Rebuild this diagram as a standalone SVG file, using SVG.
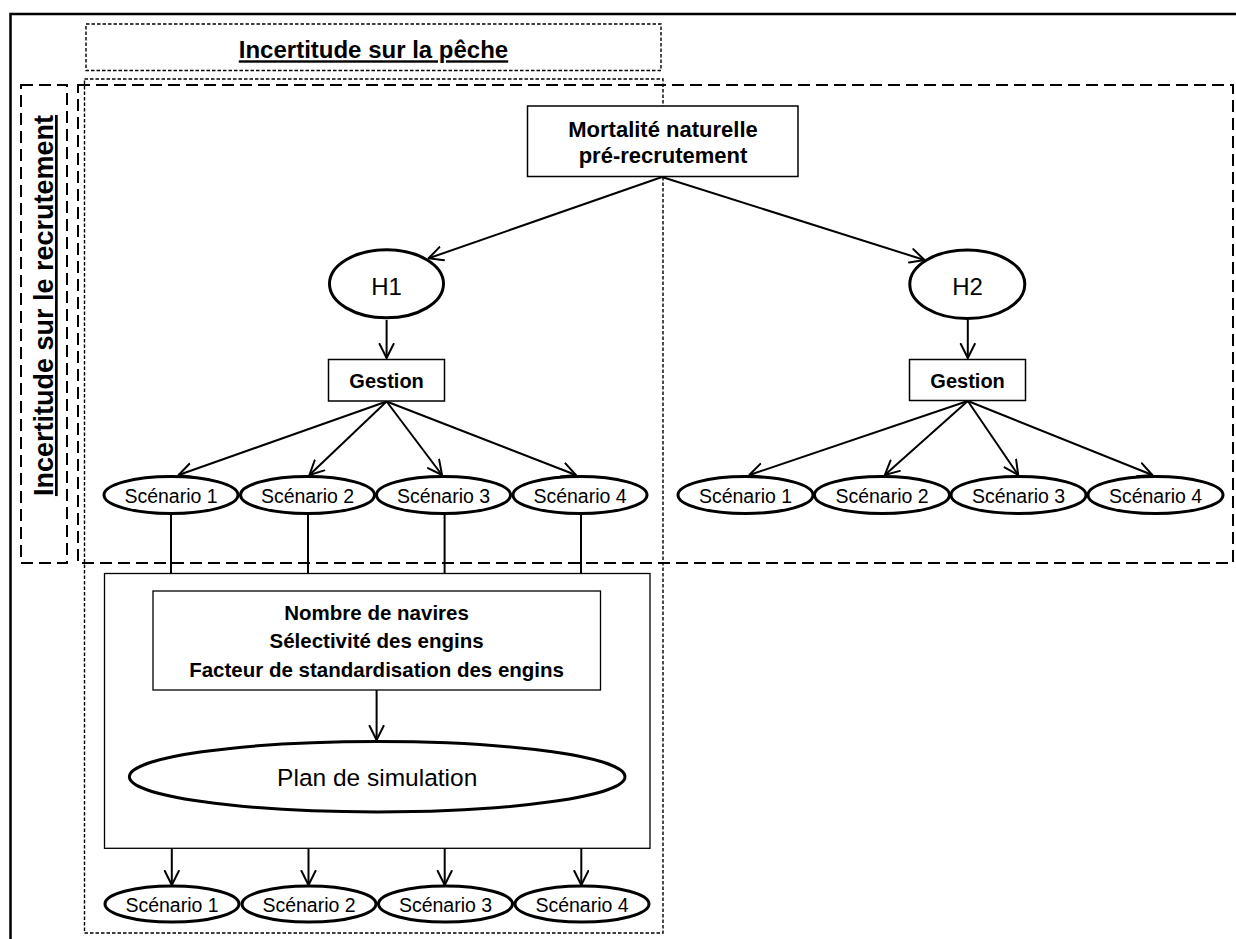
<svg xmlns="http://www.w3.org/2000/svg" width="1236" height="939" viewBox="0 0 1236 939">
<style>
  .t { font-family: "Liberation Sans", Arial, sans-serif; fill: #000; }
  .b { font-weight: bold; }
  .box { fill: #fff; stroke: #000; stroke-width: 1.5; }
  .ell { fill: #fff; stroke: #000; stroke-width: 3; }
  .fine { fill: none; stroke: #000; stroke-width: 1.4; stroke-dasharray: 3.5 2; }
  .long { fill: none; stroke: #000; stroke-width: 2; stroke-dasharray: 12 6; }
  .con line { stroke: #000; stroke-width: 2; fill: none; }
  .arr { marker-end: url(#ah); }
</style>
<defs>
  <marker id="ah" markerUnits="userSpaceOnUse" markerWidth="18" markerHeight="18" refX="15" refY="8" orient="auto">
    <path d="M1,1 L15,8 L1,15" fill="none" stroke="#000" stroke-width="2" stroke-linejoin="round" stroke-linecap="round"/>
  </marker>
</defs>
<rect width="1236" height="939" fill="#fff"/>

<!-- outer frame -->
<path d="M10.5,940 V14 H1240" fill="none" stroke="#000" stroke-width="2.5"/>

<!-- containers -->
<g id="container-peche-titre">
  <rect class="fine" x="86" y="24" width="575" height="46.5"/>
  <text class="t b" x="373.5" y="58.3" font-size="24" text-anchor="middle" text-decoration="underline">Incertitude sur la pêche</text>
</g>
<g id="container-recrutement-titre">
  <rect class="long" x="21" y="85" width="46" height="478"/>
  <text class="t b" transform="translate(53,305.5) rotate(-90)" font-size="27" text-anchor="middle" text-decoration="underline">Incertitude sur le recrutement</text>
</g>
<g id="container-peche">
  <rect class="fine" x="84.5" y="79" width="578.5" height="854"/>
</g>
<g id="container-recrutement">
  <rect class="long" x="78" y="85" width="1155" height="478"/>
</g>

<!-- connectors -->
<g id="connectors" class="con">
  <line class="arr" x1="662" y1="177" x2="428.6" y2="258.3"/>
  <line class="arr" x1="662" y1="177" x2="924.5" y2="260"/>
  <line class="arr" x1="386.6" y1="320" x2="386.6" y2="358"/>
  <line class="arr" x1="967.8" y1="320" x2="967.8" y2="358"/>
  <line class="arr" x1="386.6" y1="401.5" x2="178.6" y2="475"/>
  <line class="arr" x1="386.6" y1="401.5" x2="309.4" y2="475"/>
  <line class="arr" x1="386.6" y1="401.5" x2="442" y2="475"/>
  <line class="arr" x1="386.6" y1="401.5" x2="575.9" y2="475"/>
  <line class="arr" x1="967.8" y1="401" x2="749.3" y2="475"/>
  <line class="arr" x1="967.8" y1="401" x2="884.8" y2="475"/>
  <line class="arr" x1="967.8" y1="401" x2="1018.2" y2="475"/>
  <line class="arr" x1="967.8" y1="401" x2="1152.3" y2="475"/>
  <line x1="171" y1="513.5" x2="171" y2="573.5"/>
  <line x1="308" y1="513.5" x2="308" y2="573.5"/>
  <line x1="444.6" y1="513.5" x2="444.6" y2="573.5"/>
  <line x1="581" y1="513.5" x2="581" y2="573.5"/>
  <line class="arr" x1="376.6" y1="690" x2="376.6" y2="740"/>
  <line class="arr" x1="171.8" y1="848.3" x2="171.8" y2="885"/>
  <line class="arr" x1="308.5" y1="848.3" x2="308.5" y2="885"/>
  <line class="arr" x1="444.7" y1="848.3" x2="444.7" y2="885"/>
  <line class="arr" x1="581.3" y1="848.3" x2="581.3" y2="885"/>
</g>

<!-- nodes -->
<g id="mortalite">
  <rect class="box" x="527.5" y="106" width="270.5" height="70.5"/>
  <text class="t b" x="663" y="136.7" font-size="22" text-anchor="middle">Mortalité naturelle</text>
  <text class="t b" x="663" y="162.7" font-size="22" text-anchor="middle">pré-recrutement</text>
</g>
<g id="h1">
  <ellipse class="ell" cx="386.5" cy="283.8" rx="57" ry="34"/>
  <text class="t" x="386.5" y="295" font-size="24" text-anchor="middle">H1</text>
</g>
<g id="h2">
  <ellipse class="ell" cx="967.3" cy="284.2" rx="57.5" ry="34.3"/>
  <text class="t" x="967.5" y="295" font-size="24" text-anchor="middle">H2</text>
</g>
<g id="gestion-h1">
  <rect class="box" x="328.5" y="359.5" width="116" height="41.5"/>
  <text class="t b" x="386.6" y="387.5" font-size="20" text-anchor="middle">Gestion</text>
</g>
<g id="gestion-h2">
  <rect class="box" x="909.5" y="359.5" width="116" height="41"/>
  <text class="t b" x="967.6" y="387.5" font-size="20" text-anchor="middle">Gestion</text>
</g>

<g id="h1-scenario-1"><ellipse class="ell" cx="171" cy="495" rx="67" ry="18.5"/><text class="t" x="171" y="502.7" font-size="19.5" text-anchor="middle">Scénario 1</text></g>
<g id="h1-scenario-2"><ellipse class="ell" cx="307.5" cy="495" rx="67" ry="18.5"/><text class="t" x="307.5" y="502.7" font-size="19.5" text-anchor="middle">Scénario 2</text></g>
<g id="h1-scenario-3"><ellipse class="ell" cx="443.5" cy="495" rx="67" ry="18.5"/><text class="t" x="443.5" y="502.7" font-size="19.5" text-anchor="middle">Scénario 3</text></g>
<g id="h1-scenario-4"><ellipse class="ell" cx="580" cy="495" rx="67" ry="18.5"/><text class="t" x="580" y="502.7" font-size="19.5" text-anchor="middle">Scénario 4</text></g>

<g id="h2-scenario-1"><ellipse class="ell" cx="745.5" cy="495" rx="67.5" ry="18.5"/><text class="t" x="745.5" y="503" font-size="19.5" text-anchor="middle">Scénario 1</text></g>
<g id="h2-scenario-2"><ellipse class="ell" cx="882" cy="495" rx="67.5" ry="18.5"/><text class="t" x="882" y="503" font-size="19.5" text-anchor="middle">Scénario 2</text></g>
<g id="h2-scenario-3"><ellipse class="ell" cx="1018.5" cy="495" rx="67.5" ry="18.5"/><text class="t" x="1018.5" y="503" font-size="19.5" text-anchor="middle">Scénario 3</text></g>
<g id="h2-scenario-4"><ellipse class="ell" cx="1155.5" cy="495" rx="67.5" ry="18.5"/><text class="t" x="1155.5" y="503" font-size="19.5" text-anchor="middle">Scénario 4</text></g>

<g id="plan-bloc">
  <rect x="104.5" y="573.5" width="545.5" height="274.8" fill="none" stroke="#000" stroke-width="1.3"/>
</g>
<g id="facteurs">
  <rect x="153" y="591" width="447.5" height="99" fill="#fff" stroke="#000" stroke-width="1.3"/>
  <text class="t b" x="376.6" y="620" font-size="20.5" text-anchor="middle">Nombre de navires</text>
  <text class="t b" x="376.6" y="648.3" font-size="20.5" text-anchor="middle">Sélectivité des engins</text>
  <text class="t b" x="376.6" y="676.7" font-size="20.5" text-anchor="middle">Facteur de standardisation des engins</text>
</g>
<g id="plan-simulation">
  <ellipse class="ell" cx="377.2" cy="776.7" rx="247.8" ry="35.2"/>
  <text class="t" x="377.2" y="786" font-size="24.5" text-anchor="middle">Plan de simulation</text>
</g>

<g id="plan-scenario-1"><ellipse class="ell" cx="172" cy="904" rx="67" ry="18"/><text class="t" x="172" y="911.5" font-size="19.5" text-anchor="middle">Scénario 1</text></g>
<g id="plan-scenario-2"><ellipse class="ell" cx="309" cy="904" rx="67" ry="18"/><text class="t" x="309" y="911.5" font-size="19.5" text-anchor="middle">Scénario 2</text></g>
<g id="plan-scenario-3"><ellipse class="ell" cx="445.5" cy="904" rx="67" ry="18"/><text class="t" x="445.5" y="911.5" font-size="19.5" text-anchor="middle">Scénario 3</text></g>
<g id="plan-scenario-4"><ellipse class="ell" cx="582" cy="904" rx="67" ry="18"/><text class="t" x="582" y="911.5" font-size="19.5" text-anchor="middle">Scénario 4</text></g>
</svg>
